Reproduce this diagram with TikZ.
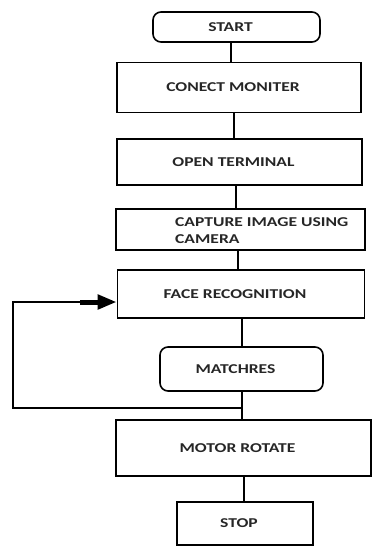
\documentclass[tikz,border=0pt]{standalone}
\usepackage{fontspec}
\setmainfont{Carlito}[FakeStretch=1.3]
\usetikzlibrary{arrows.meta}
\begin{document}
\begin{tikzpicture}[x=1pt,y=-1pt,
  box/.style={draw, line width=1.6pt, inner sep=0pt,
    font=\fontsize{13.5}{17}\selectfont\bfseries, text=black!85,
    execute at end node={\hspace*{12pt}}},
  plainbox/.style={draw, line width=1.6pt, inner sep=0pt},
  txt/.style={inner sep=0pt, font=\fontsize{13.5}{17}\selectfont\bfseries, text=black!85},
  term/.style={box, rounded corners=8pt},
  conn/.style={line width=1.6pt}]
\useasboundingbox (0,0) rectangle (372,547);

\node[term, minimum width=167pt, minimum height=30pt] (start) at (236.5,27) {START};
\node[box, minimum width=244pt, minimum height=50pt] (conect) at (239,87.5) {CONECT MONITER};
\node[box, minimum width=245pt, minimum height=46pt] (open) at (239.5,162) {OPEN TERMINAL};
\node[plainbox, minimum width=249pt, minimum height=41pt] (capture) at (240.5,229.5) {};
\node[txt, anchor=west, align=left] (capturetxt) at (175,230.5) {CAPTURE IMAGE USING\\CAMERA};
\node[box, minimum width=247pt, minimum height=48pt] (face) at (241,294) {FACE RECOGNITION};
\node[term, minimum width=163pt, minimum height=44pt] (matches) at (241.5,369) {MATCHRES};
\node[box, minimum width=255pt, minimum height=56pt] (motor) at (243.5,448) {MOTOR ROTATE};
\node[box, minimum width=136pt, minimum height=43pt] (stop) at (245,523.5) {STOP};

\coordinate (x1) at (231,0);
\coordinate (x2) at (234,0);
\coordinate (x3) at (236,0);
\coordinate (x4) at (238,0);
\coordinate (x5) at (242,0);
\coordinate (x6) at (244,0);
\draw[conn] (start.south -| x1) -- (conect.north -| x1);
\draw[conn] (conect.south -| x2) -- (open.north -| x2);
\draw[conn] (open.south -| x3) -- (capture.north -| x3);
\draw[conn] (capture.south -| x4) -- (face.north -| x4);
\draw[conn] (face.south -| x5) -- (matches.north -| x5);
\draw[conn] (matches.south -| x5) -- (motor.north -| x5);
\draw[conn] (motor.south -| x6) -- (stop.north -| x6);

\coordinate (j) at (242,408);
\coordinate (lc) at (13,408);
\coordinate (lt) at (13,302);
\coordinate (ab) at (80,302);
\draw[conn, line join=miter] (j) -- (lc) -- (lt) -- (ab);
\draw[line width=5pt, -{Triangle[length=19pt,width=14pt]}] (ab) -- (face.west |- ab);
\end{tikzpicture}
\end{document}
